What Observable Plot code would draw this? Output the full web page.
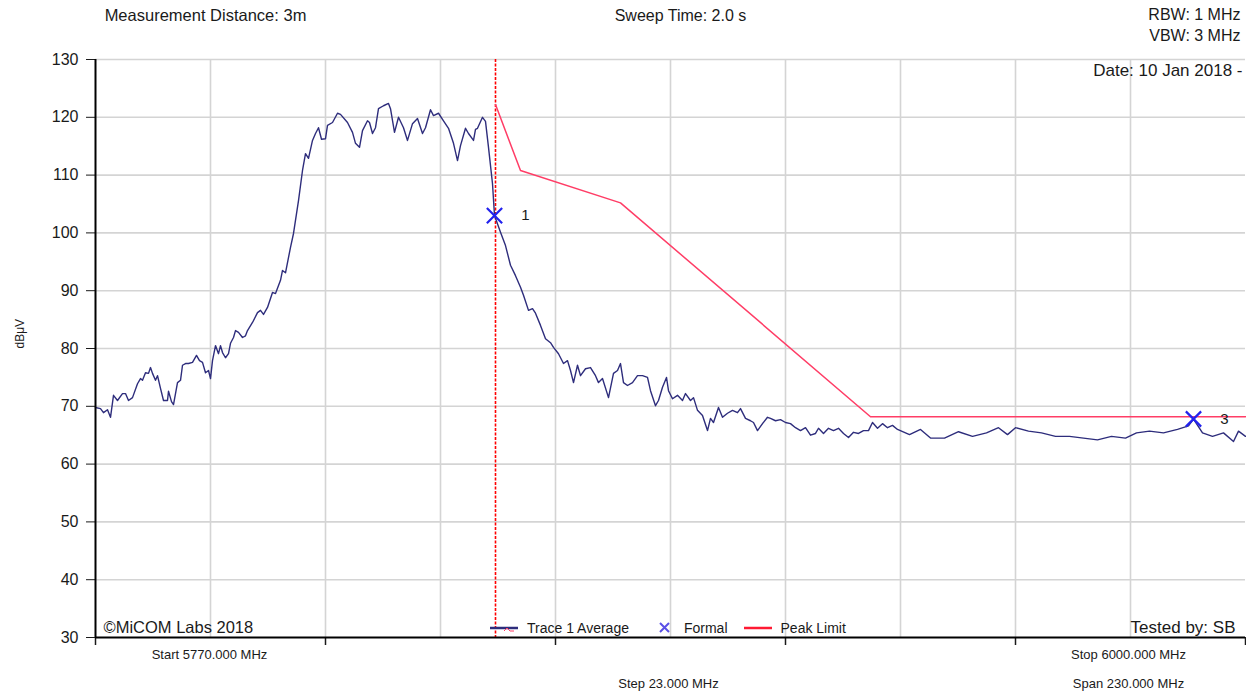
<!DOCTYPE html>
<html>
<head>
<meta charset="utf-8">
<script src="https://cdn.jsdelivr.net/npm/d3@7"></script>
<script src="https://cdn.jsdelivr.net/npm/@observablehq/plot@0.6"></script>
<style>
  html, body { margin: 0; padding: 0; background: #fff; }
  #wrap { position: relative; width: 1246px; height: 696px; overflow: hidden; font-family: "Liberation Sans", Arial, sans-serif; }
  #legend { position: absolute; left: 488px; top: 618px; display: flex; align-items: center; font-size: 14px; color: #1a1a1a; white-space: nowrap; }
  #legend .item { display: flex; align-items: center; }
  #legend svg { display: block; }
</style>
</head>
<body>
<div id="wrap"></div>
<script>
// ---- Data ----
const traceFreqMHz = [
  5770.0,5771.0,5771.6,5772.4,5773.0,5773.6,5774.4,5775.4,5776.0,5776.6,5777.4,5778.4,5779.0,5779.4,5780.0,5780.6,
  5781.0,5781.4,5782.0,5782.4,5783.0,5783.6,5784.4,5784.6,5785.2,5785.6,5786.4,5787.0,5787.4,5788.0,5788.6,5789.4,
  5790.2,5790.8,5791.4,5792.0,5792.6,5793.0,5793.4,5794.0,5794.6,5795.0,5795.4,5796.0,5796.6,5797.0,5797.6,5798.0,
  5798.6,5799.4,5800.0,5800.4,5801.4,5802.4,5803.0,5803.6,5804.4,5805.4,5806.0,5807.0,5807.4,5808.0,5809.0,5809.6,
  5810.6,5811.4,5812.0,5812.6,5813.4,5814.0,5814.6,5815.2,5816.0,5816.4,5817.4,5818.4,5819.0,5820.4,5821.4,5822.0,
  5822.8,5823.4,5824.4,5824.8,5825.4,5826.0,5826.6,5827.6,5828.6,5829.0,5829.8,5830.6,5831.6,5832.4,5833.4,5834.4,
  5835.4,5836.0,5837.0,5837.6,5838.6,5839.6,5840.6,5841.6,5842.4,5843.0,5844.0,5844.6,5845.6,5846.0,5846.4,5847.4,
  5848.0,5848.6,5849.4,5849.8,5851.0,5852.0,5853.0,5854.0,5855.0,5855.6,5856.6,5857.4,5858.0,5859.0,5860.0,5861.0,
  5861.6,5862.6,5863.6,5864.4,5865.0,5865.6,5866.4,5867.0,5868.0,5869.0,5870.0,5870.6,5871.4,5872.6,5873.6,5874.4,
  5875.0,5875.6,5876.4,5877.4,5878.4,5879.4,5880.4,5881.0,5882.0,5882.6,5883.4,5884.2,5884.6,5885.4,5886.4,5887.4,
  5888.0,5889.0,5889.6,5890.4,5891.4,5892.4,5893.0,5893.6,5894.6,5895.4,5896.4,5897.4,5898.4,5899.0,5900.0,5901.0,
  5901.6,5902.4,5903.4,5904.4,5905.0,5906.0,5907.0,5908.0,5909.0,5910.0,5911.0,5912.0,5913.0,5914.0,5914.6,5915.6,
  5916.6,5917.6,5918.6,5919.6,5920.6,5921.6,5922.6,5923.6,5924.6,5925.4,5926.4,5927.4,5928.4,5929.4,5930.4,5932.8,
  5935.0,5937.0,5939.8,5942.6,5945.4,5948.2,5950.6,5952.4,5954.0,5956.6,5959.2,5962.0,5964.8,5967.6,5970.4,5973.2,
  5976.0,5978.2,5980.8,5983.6,5986.4,5988.6,5989.6,5991.4,5993.4,5995.6,5997.6,5998.6,6000.0
];
const traceLevelDbuV = [
  69.8,69.6,68.9,69.4,68.1,71.9,71.0,72.2,72.2,71.0,71.5,73.9,74.8,74.5,75.8,75.7,
  76.7,75.7,74.5,75.3,73.1,71.0,71.0,72.6,70.8,70.3,74.1,74.5,77.1,77.4,77.4,77.6,
  78.8,77.9,77.6,75.8,76.2,74.8,77.9,80.5,79.1,80.5,79.3,78.4,79.1,80.9,81.9,83.1,
  82.8,81.9,82.2,83.1,84.5,86.2,86.6,85.9,87.1,89.7,89.5,91.8,93.5,93.1,97.5,99.9,
  105.6,110.8,113.7,112.9,116.0,117.2,118.2,116.2,116.3,118.6,119.1,120.7,120.5,119.1,117.4,115.5,
  114.8,117.7,119.4,119.1,117.2,118.2,121.5,122.0,122.4,121.5,117.4,120.0,118.2,116.0,118.9,119.8,
  117.2,118.2,121.3,120.3,120.7,119.4,118.1,115.5,112.5,115.1,118.1,117.2,116.0,117.9,118.1,120.0,
  119.3,114.8,108.5,103.0,100.1,97.8,94.4,92.6,90.6,89.2,86.6,86.9,86.1,84.0,81.7,81.0,
  80.2,79.1,77.4,77.9,76.2,74.1,77.1,75.3,76.5,76.7,75.3,74.1,74.8,71.5,75.7,76.2,
  77.4,74.1,73.6,74.1,75.3,75.3,75.0,72.7,70.1,71.0,73.3,75.0,72.7,71.3,71.9,71.0,
  72.2,71.0,71.5,69.3,68.4,65.8,67.9,67.2,69.8,68.1,68.8,69.3,68.9,69.6,67.9,67.5,
  67.2,65.8,67.0,68.1,67.9,67.5,67.7,67.2,67.0,66.3,65.8,66.3,65.0,65.3,66.2,65.3,
  66.2,65.8,66.2,65.3,64.6,65.5,65.3,65.8,65.8,67.2,66.2,67.0,66.3,66.7,66.0,65.1,
  66.0,64.5,64.5,65.6,64.8,65.4,66.3,65.1,66.3,65.7,65.4,64.8,64.8,64.5,64.2,64.8,
  64.5,65.4,65.7,65.4,66.0,66.6,67.8,65.4,64.8,65.4,63.9,65.7,64.8
];
const limitFreqMHz = [5850, 5855, 5875, 5925, 6000];
const limitLevelDbuV = [122.2, 110.8, 105.2, 68.2, 68.2];
const markerFreqMHz = [5849.8, 5989.6];
const markerLevelDbuV = [103.0, 67.8];
const markerLabels = ["1", "3"];
const markerLineFreqMHz = [5850];
const yTicks = [30, 40, 50, 60, 70, 80, 90, 100, 110, 120, 130];
const xGridMHz = [5793, 5816, 5839, 5862, 5885, 5908, 5931, 5954, 5977];
const xTicksMHz = [5770, 5816, 5862, 5908, 5954, 6000];

// ---- Build tables ----
const trace = traceFreqMHz.map((f, i) => ({f, v: traceLevelDbuV[i]}));
const limit = limitFreqMHz.map((f, i) => ({f, v: limitLevelDbuV[i]}));
const markers = markerFreqMHz.map((f, i) => ({f, v: markerLevelDbuV[i], label: markerLabels[i]}));

const ink = "#1a1a1a";
const font = "'Liberation Sans', Arial, sans-serif";
const T = (txt, opts) => Plot.text([txt], {fill: ink, lineAnchor: "middle", ...opts});

const chart = Plot.plot({
  width: 1246,
  height: 696,
  marginLeft: 95,
  marginRight: 1,
  marginTop: 59,
  marginBottom: 59,
  style: {fontFamily: font, background: "#fff", color: ink, overflow: "visible"},
  x: {domain: [5770, 6000], axis: null},
  y: {domain: [30, 130], axis: null},
  marks: [
    Plot.ruleX(xGridMHz, {stroke: "#d4d4d4", strokeWidth: 1.6}),
    Plot.ruleY(yTicks.filter(t => t > 30), {stroke: "#d4d4d4", strokeWidth: 1.6}),
    Plot.ruleX(markerLineFreqMHz, {stroke: "#ff0000", strokeWidth: 1.6, strokeDasharray: "3,1.5"}),
    Plot.line(limit, {x: "f", y: "v", stroke: "#ff3d66", strokeWidth: 1.5}),
    Plot.line(trace, {x: "f", y: "v", stroke: "#2e2d7c", strokeWidth: 1.4}),
    Plot.dot(markers, {x: "f", y: "v", symbol: "times", r: 7, stroke: "#2222ee", strokeWidth: 2.2}),
    Plot.text(markers, {x: "f", y: "v", text: "label", dx: 31, fontSize: 15, fill: ink}),
    Plot.axisY({ticks: yTicks, tickSize: 9, tickPadding: 8, fontSize: 16, label: null, stroke: ink}),
    Plot.axisX({ticks: xTicksMHz, tickFormat: () => "", tickSize: 8, label: null, strokeWidth: 1.5}),
    Plot.ruleX([5770], {stroke: "#000", strokeWidth: 2}),
    Plot.ruleY([30], {stroke: "#000", strokeWidth: 2}),
    // Annotations
    T("dB\u03bcV", {frameAnchor: "left", dx: -75, rotate: -90, fontSize: 12}),
    T("Measurement Distance: 3m", {frameAnchor: "top-left", textAnchor: "middle", dx: 110, dy: -44, fontSize: 16.5}),
    T("Sweep Time: 2.0 s", {frameAnchor: "top", textAnchor: "middle", dx: 10, dy: -44, fontSize: 16}),
    T("RBW: 1 MHz", {frameAnchor: "top-right", textAnchor: "end", dx: -5, dy: -45, fontSize: 16}),
    T("VBW: 3 MHz", {frameAnchor: "top-right", textAnchor: "end", dx: -5, dy: -24, fontSize: 16}),
    T("Date: 10 Jan 2018 -", {frameAnchor: "top-right", textAnchor: "end", dx: -3, dy: 11, fontSize: 17}),
    T("\u00a9MiCOM Labs 2018", {frameAnchor: "bottom-left", textAnchor: "start", dx: 8, dy: -10, fontSize: 16.5}),
    T("Tested by: SB", {frameAnchor: "bottom-right", textAnchor: "end", dx: -10, dy: -10, fontSize: 17}),
    T("Start 5770.000 MHz", {frameAnchor: "bottom-left", textAnchor: "middle", dx: 114, dy: 17, fontSize: 13}),
    T("Stop 6000.000 MHz", {frameAnchor: "bottom-right", textAnchor: "middle", dx: -117, dy: 17, fontSize: 13}),
    T("Step 23.000 MHz", {frameAnchor: "bottom", textAnchor: "middle", dx: -2, dy: 46, fontSize: 13}),
    T("Span 230.000 MHz", {frameAnchor: "bottom-right", textAnchor: "middle", dx: -117, dy: 46, fontSize: 13})
  ]
});

const wrap = document.getElementById("wrap");
wrap.appendChild(chart);

// Legend overlay
const legend = document.createElement("div");
legend.id = "legend";
legend.innerHTML = `
  <div class="item"><svg width="34" height="20"><line x1="2" y1="10" x2="30" y2="10" stroke="#2e2d7c" stroke-width="2.5"/><path d="M16 13 l3 -3 l3 3 l4 0" fill="none" stroke="#ff3d66" stroke-width="1"/></svg><span style="margin-left:5px">Trace 1 Average</span></div>
  <div class="item" style="margin-left:29px"><svg width="14" height="20"><path d="M2 5 L11 14 M11 5 L2 14" stroke="#5a50e6" stroke-width="2"/></svg><span style="margin-left:12px">Formal</span></div>
  <div class="item" style="margin-left:14px"><svg width="32" height="20"><line x1="2" y1="10" x2="30" y2="10" stroke="#ff1a33" stroke-width="2.5"/></svg><span style="margin-left:7px">Peak Limit</span></div>
`;
wrap.appendChild(legend);
</script>
</body>
</html>
